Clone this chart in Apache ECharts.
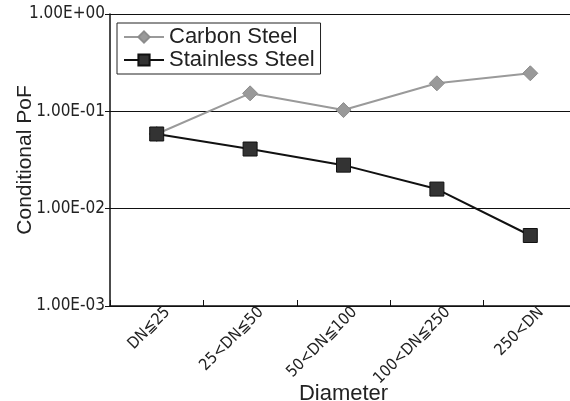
<!DOCTYPE html>
<html>
<head>
<meta charset="utf-8">
<script src="https://cdn.jsdelivr.net/npm/echarts@6/dist/echarts.min.js"></script>
<style>html,body{margin:0;padding:0;background:#fff}#c{width:570px;height:401px}</style>
</head>
<body>
<div id="c"></div>
<script>
const categories = ['DN≦25', '25<DN≦50', '50<DN≦100', '100<DN≦250', '250<DN'];
const carbonSteel = [0.0585, 0.153, 0.103, 0.194, 0.246];
const stainlessSteel = [0.0585, 0.041, 0.028, 0.0159, 0.0053];
const yTickLabels = {'-3': '1.00E-03', '-2': '1.00E-02', '-1': '1.00E-01', '0': '1.00E+00'};

const narrow = '"Liberation Sans Narrow", "DejaVu Sans Condensed", "Noto Sans CJK JP", sans-serif';
const sans = '"Liberation Sans", "Noto Sans CJK JP", sans-serif';

const chart = echarts.init(document.getElementById('c'), null, {renderer: 'canvas'});
chart.setOption({
  animation: false,
  backgroundColor: '#fff',
  grid: {left: 110, top: 14, width: 467, bottom: 95, containLabel: false, outerBoundsMode: 'none'},
  legend: {
    left: 117, top: 23,
    orient: 'vertical',
    data: ['Carbon Steel', 'Stainless Steel'],
    backgroundColor: '#fff',
    borderColor: '#222', borderWidth: 1,
    padding: [3, 6, 3, 6],
    itemWidth: 40, itemHeight: 14, itemGap: 1,
    textStyle: {fontFamily: sans, fontSize: 22, color: '#222'}
  },
  xAxis: {
    type: 'category',
    data: categories,
    boundaryGap: true,
    name: 'Diameter',
    nameLocation: 'middle',
    nameGap: 77,
    nameMoveOverlap: false,
    nameTextStyle: {fontFamily: sans, fontSize: 22, color: '#222'},
    axisLine: {lineStyle: {color: '#111', width: 1.5}},
    axisTick: {show: true, inside: true, length: 6, lineStyle: {color: '#111'}},
    axisLabel: {
      interval: 0, hideOverlap: false,
      rotate: 45, fontFamily: narrow, fontSize: 16, color: '#222',
      margin: -7, align: 'right', verticalAlign: 'top', lineHeight: 31
    },
    splitLine: {show: false}
  },
  yAxis: {
    type: 'log',
    logBase: 10,
    min: 0.001,
    max: 1,
    name: 'Conditional PoF',
    nameLocation: 'middle',
    nameGap: 74,
    nameMoveOverlap: false,
    nameTextStyle: {fontFamily: sans, fontSize: 21, color: '#222'},
    axisLine: {show: true, lineStyle: {color: '#111', width: 1.5}},
    axisTick: {show: true, inside: false, length: 5, lineStyle: {color: '#111'}},
    axisLabel: {
      fontFamily: narrow, fontSize: 17, color: '#222', margin: 5,
      formatter: v => yTickLabels[String(Math.round(Math.log10(v)))] || ''
    },
    splitLine: {show: true, lineStyle: {color: '#111', width: 1}}
  },
  series: [
    {
      name: 'Carbon Steel',
      type: 'line',
      data: carbonSteel,
      symbol: 'diamond',
      symbolSize: 15,
      lineStyle: {color: '#9a9a9a', width: 2},
      itemStyle: {color: '#999', borderColor: '#8c8c8c', borderWidth: 1}
    },
    {
      name: 'Stainless Steel',
      type: 'line',
      data: stainlessSteel,
      symbol: 'rect',
      symbolSize: 14,
      lineStyle: {color: '#111', width: 2},
      itemStyle: {color: '#333', borderColor: '#111', borderWidth: 1}
    }
  ]
});
</script>
</body>
</html>
